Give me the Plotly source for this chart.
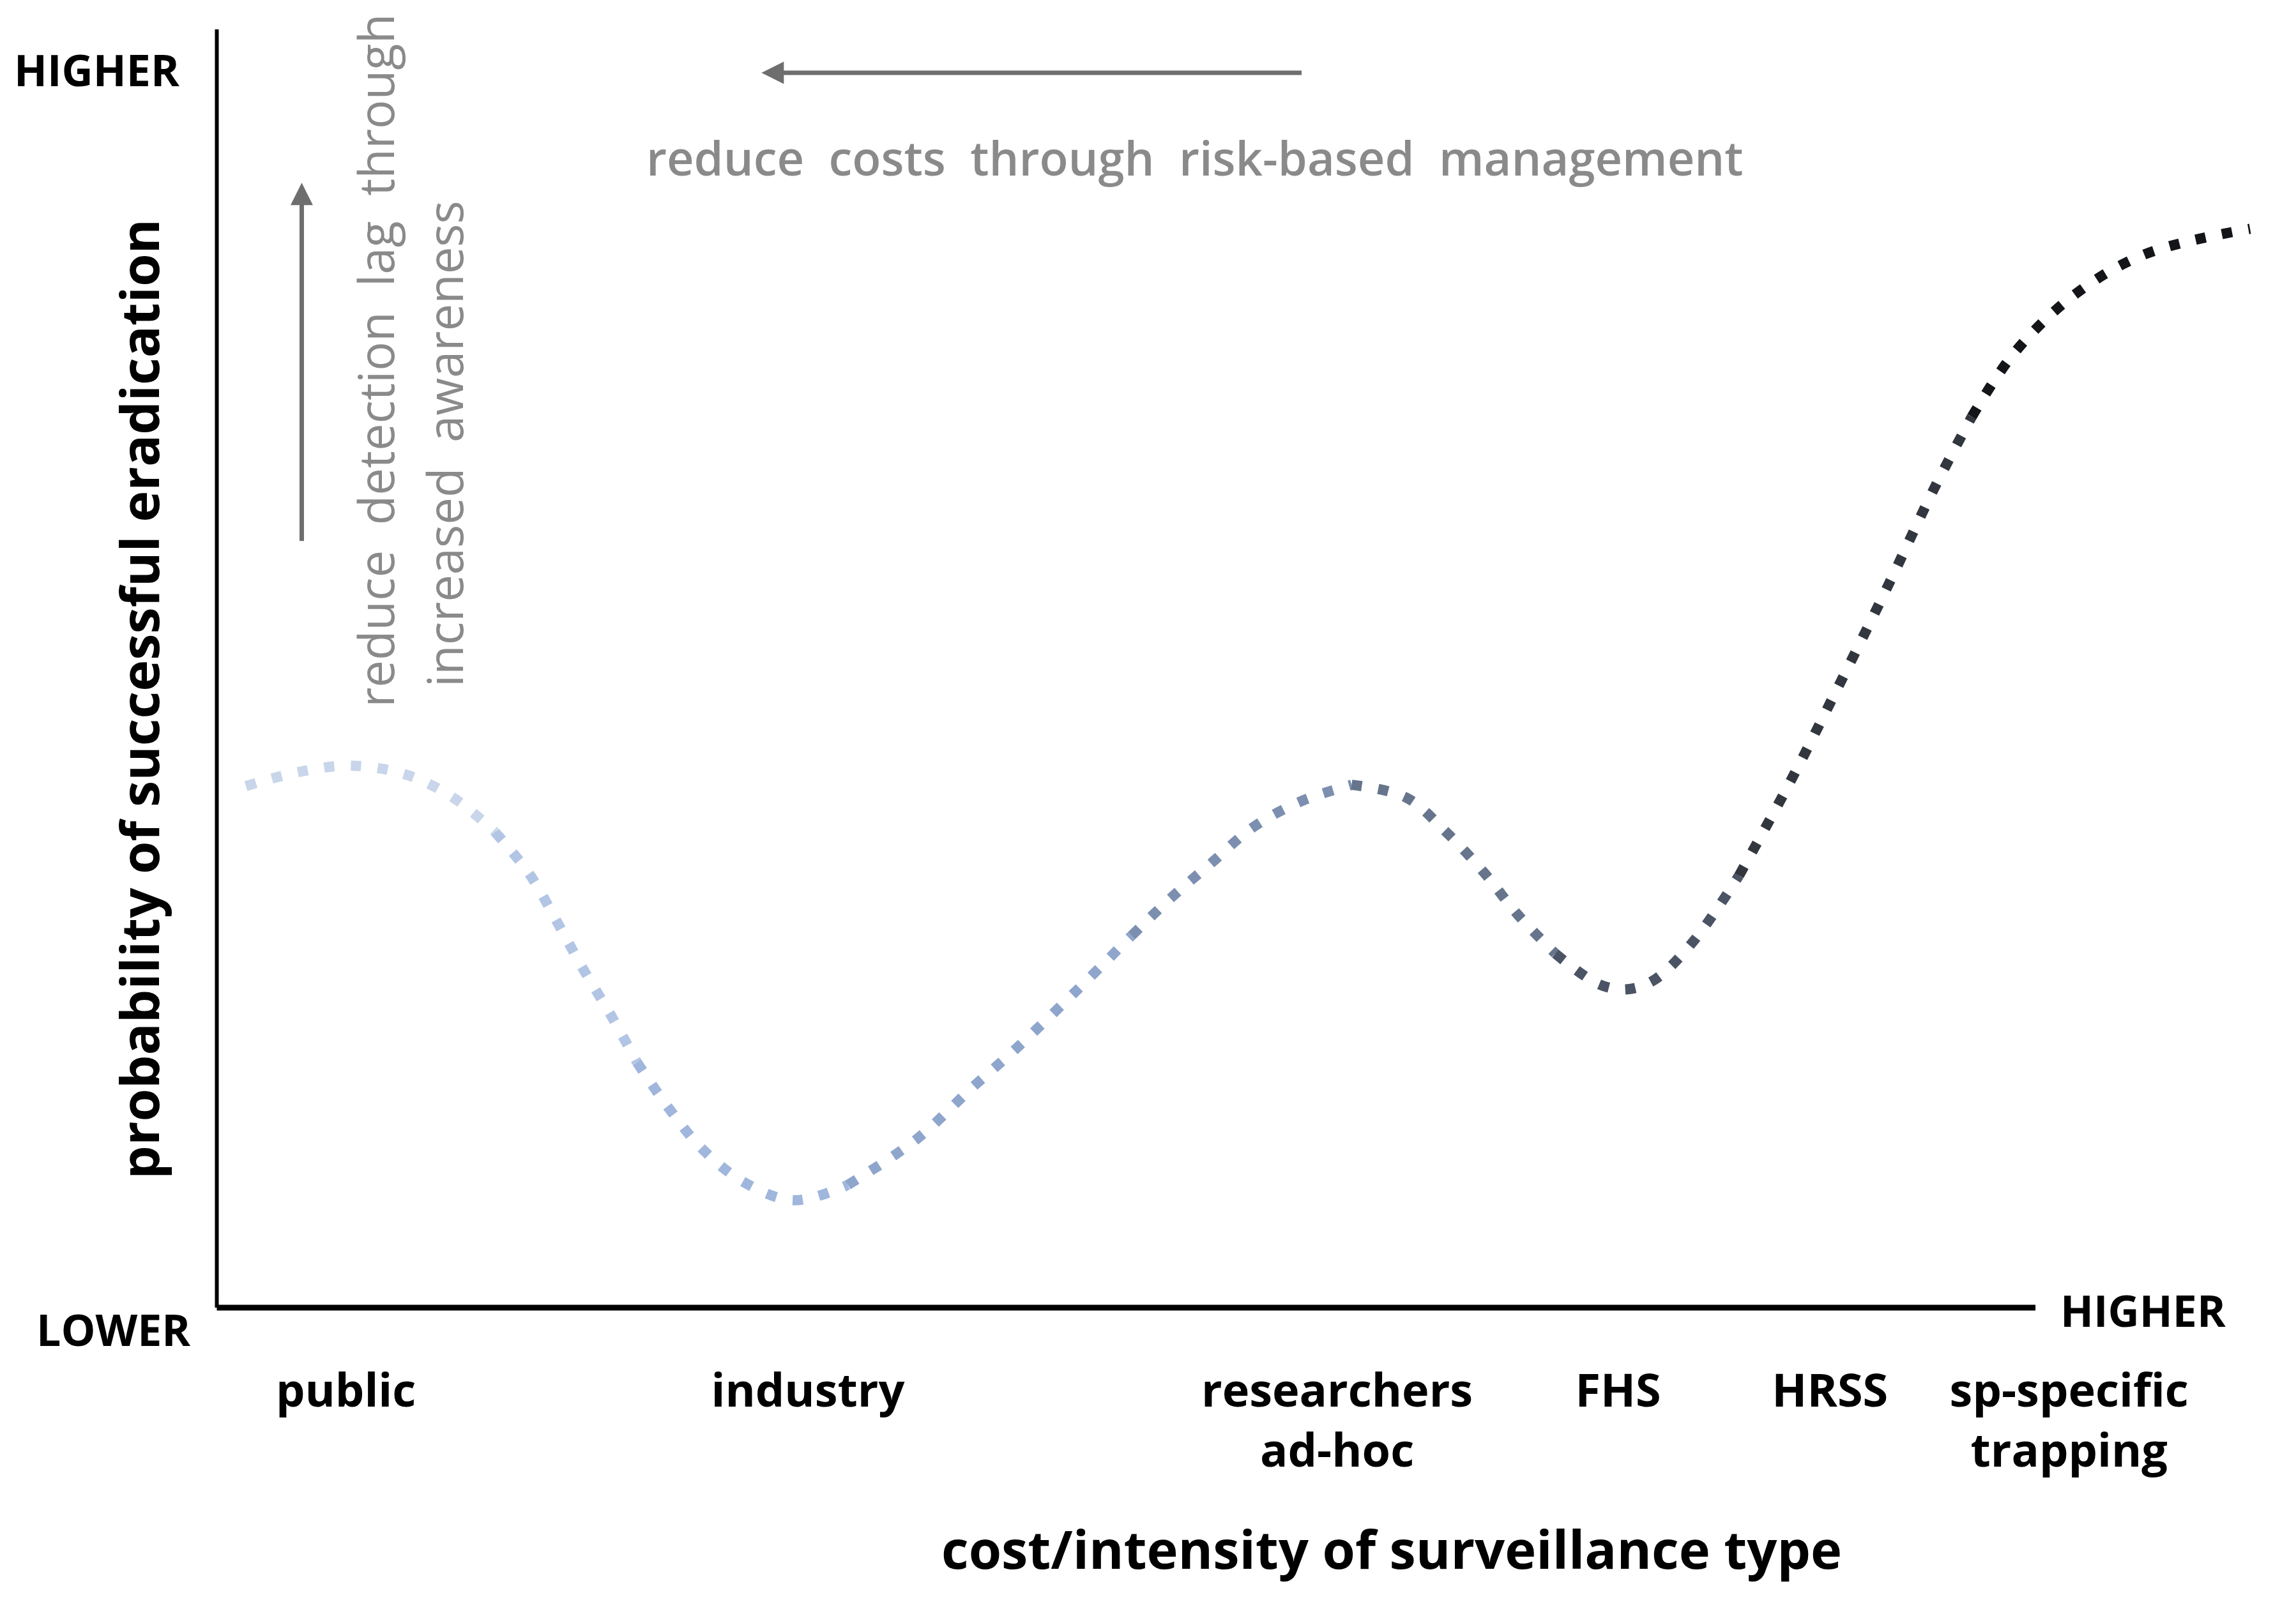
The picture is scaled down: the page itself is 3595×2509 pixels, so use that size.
import plotly.graph_objects as go

# curve
# x: cost/intensity (axis runs 0..100), y: probability of eradication (axis runs 0..100)
cost = [1.6, 4.5, 7.4, 10.4, 13.0, 15.3, 17.2, 18.7, 20.1, 21.7,
        23.1, 24.8, 26.7, 29.0, 31.7, 34.7, 38.5, 41.6, 43.9, 47.2,
        50.3, 52.5, 54.7, 57.0, 59.6, 62.4, 65.4, 67.6, 69.7, 71.5,
        73.6, 76.0, 77.5, 79.0, 81.1, 83.7, 86.5, 89.2, 91.9, 94.4,
        96.5, 98.9, 102.2, 106.0, 111.8]
prob = [40.8, 41.9, 42.4, 41.7, 39.9, 37.2, 33.9, 30.2, 26.6, 22.8,
        19.2, 15.7, 12.4, 9.8, 8.4, 9.6, 13.2, 17.3, 20.2, 24.7,
        29.1, 32.1, 34.8, 37.6, 39.6, 40.9, 39.9, 37.2, 34.0, 30.8,
        27.7, 25.3, 24.9, 25.6, 28.5, 33.8, 41.1, 48.7, 56.5, 64.0,
        69.7, 74.8, 79.3, 82.4, 84.4]

# surveillance types on the x axis
categories = ["public", "industry", "researchers<br>ad-hoc", "FHS", "HRSS",
              "sp-specific<br>trapping"]
category_pos = [7.1, 32.5, 61.6, 77.05, 88.7, 101.85]

# the curve fades from light blue to black, drawn in pieces
breaks = [0, 5, 10, 15, 20, 25, 30, 35, 40, 44]
shades = ["#c8d5ea", "#b2c5e4", "#a0b6dc", "#8ea5cc", "#7c8fb0",
          "#66758c", "#4b5464", "#32373f", "#141518"]

XR = [-1, 112.5]
YR = [-3, 101]

GRAY_TXT = "#8a8a8a"
GRAY_ARROW = "#6e6e6e"
SP = "\u00a0 "   # the note texts use wide word gaps


def px(v):
    return (v - XR[0]) / (XR[1] - XR[0])


def py(v):
    return (v - YR[0]) / (YR[1] - YR[0])


def note(fig, x, y, text, font, angle=0):
    fig.add_annotation(x=px(x), y=py(y), xref="paper", yref="paper",
                       text=text, showarrow=False, font=font,
                       textangle=angle, xanchor="center", yanchor="middle")


def build():
    fig = go.Figure()

    for i in range(len(shades)):
        a, b = breaks[i], breaks[i + 1]
        fig.add_trace(go.Scatter(
            x=cost[a:b + 1], y=prob[a:b + 1], mode="lines",
            line=dict(color=shades[i], width=16, dash="16px,26px",
                      shape="spline"),
            hoverinfo="skip", showlegend=False))

    # hand drawn axes
    fig.add_shape(type="line", x0=0, x1=0, y0=0, y1=100,
                  line=dict(color="black", width=6))
    fig.add_shape(type="line", x0=0, x1=100, y0=0, y1=0,
                  line=dict(color="black", width=9))

    black = dict(family="Open Sans", size=68, color="black", weight="bold")
    note(fig, -6.6, 96.9, "HIGHER", black)
    note(fig, -5.7, -1.7, "LOWER", black)
    note(fig, 105.9, -0.2, "HIGHER", black)

    note(fig, 64.6, -18.8, "cost/intensity of surveillance type",
         dict(family="Open Sans", size=83, color="black", weight="bold"))
    note(fig, -4.35, 47.6, "probability of successful eradication",
         dict(family="Open Sans", size=83, color="black", weight="bold"),
         angle=-90)

    # arrows and notes
    fig.add_annotation(x=29.95, y=96.6, ax=59.7, ay=96.6, axref="x",
                       ayref="y", text="", showarrow=True, arrowhead=2,
                       arrowsize=1, arrowwidth=7, arrowcolor=GRAY_ARROW)
    note(fig, 53.8, 90.0,
         SP.join(["reduce", "costs", "through", "risk-based", "management"]),
         dict(family="Open Sans", size=74, color=GRAY_TXT, weight=600))
    fig.add_annotation(x=4.67, y=88.0, ax=4.67, ay=59.9, axref="x",
                       ayref="y", text="", showarrow=True, arrowhead=2,
                       arrowsize=1, arrowwidth=7, arrowcolor=GRAY_ARROW)
    note(fig, 8.7, 74.1, SP.join(["reduce", "detection", "lag", "through"]),
         dict(family="Open Sans", size=76, color=GRAY_TXT), angle=-90)
    note(fig, 12.5, 67.6, SP.join(["increased", "awareness"]),
         dict(family="Open Sans", size=76, color=GRAY_TXT), angle=-90)

    fig.update_layout(
        width=3579, height=2493,
        margin=dict(l=303, r=44, t=18, b=393),
        paper_bgcolor="white", plot_bgcolor="white",
        showlegend=False,
    )
    fig.update_xaxes(range=XR, showgrid=False, zeroline=False,
                     showline=False, tickmode="array", tickvals=category_pos,
                     ticktext=categories, ticks="outside", ticklen=8,
                     tickcolor="rgba(0,0,0,0)",
                     tickfont=dict(family="Open Sans", size=72, color="black",
                                   weight="bold"))
    fig.update_yaxes(range=YR, showgrid=False, zeroline=False,
                     showline=False, showticklabels=False, ticks="")
    return fig


def main():
    fig = build()
    fig.write_html("out.html")


if __name__ == "__main__":
    main()
